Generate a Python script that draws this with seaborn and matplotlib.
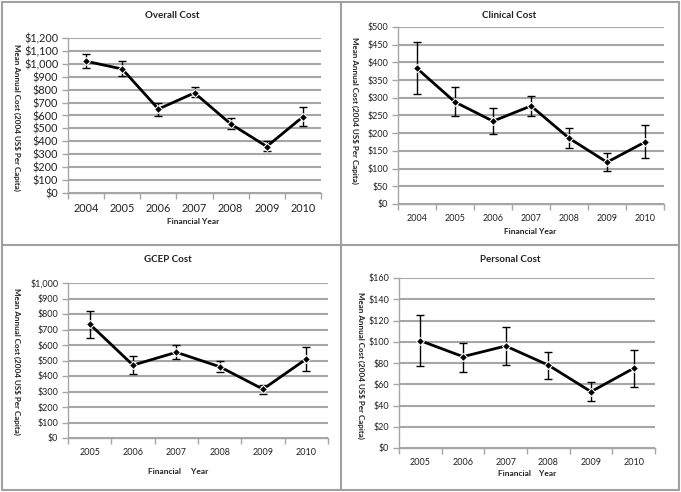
"""Mean annual cost per capita by financial year — four panels."""

import matplotlib
matplotlib.use("Agg")
import matplotlib.pyplot as plt
import matplotlib.ticker as mticker
import numpy as np
import pandas as pd
import seaborn as sns

sns.set_theme(style="white")
plt.rcParams["font.family"] = ["Lato", "DejaVu Sans"]

# ── data ──────────────────────────────────────────────────
years_a = ["2004", "2005", "2006", "2007", "2008", "2009", "2010"]
years_b = ["2005", "2006", "2007", "2008", "2009", "2010"]

overall_mean = [1020, 960, 650, 775, 535, 360, 590]
overall_low = [970, 905, 595, 740, 495, 325, 515]
overall_high = [1075, 1020, 700, 820, 580, 405, 665]

clinical_mean = [383, 288, 234, 277, 186, 118, 175]
clinical_low = [310, 248, 198, 248, 157, 93, 130]
clinical_high = [457, 330, 270, 305, 216, 143, 222]

gcep_mean = [735, 470, 553, 460, 315, 510]
gcep_low = [648, 415, 507, 425, 287, 435]
gcep_high = [822, 528, 598, 495, 340, 590]

personal_mean = [101, 86, 96, 78, 53, 75]
personal_low = [77, 72, 78, 65, 44, 57]
personal_high = [125, 99, 114, 90, 62, 92]

W, H = 681, 492
GRID = "#a6a6a6"
YLABEL = "Mean Annual Cost (2004 US$ Per Capita)"

fig = plt.figure(figsize=(W / 100, H / 100), dpi=100)


def px(x0, y0, x1, y1):
    """pixel box (top-left origin) -> figure rect"""
    return [x0 / W, 1 - y1 / H, (x1 - x0) / W, (y1 - y0) / H]


def panel(rect, years, mean, low, high, ymax, step, title, title_xy,
          xlab, xlab_xy, ylab_xy, tick_fs):
    ax = fig.add_axes(px(*rect))
    df = pd.DataFrame({"year": years, "cost": mean})
    pos = np.arange(len(years))
    yerr = [np.array(mean) - np.array(low), np.array(high) - np.array(mean)]
    ax.errorbar(pos, mean, yerr=yerr, fmt="none", ecolor="black",
                elinewidth=1.0, capsize=3, capthick=1.0, zorder=3)
    sns.lineplot(data=df, x="year", y="cost", ax=ax, color="black",
                 linewidth=2.0, marker="D", markersize=4.5, sort=False, zorder=4)
    ax.set_xlim(-0.5, len(years) - 0.5)
    ax.set_ylim(0, ymax)
    ax.set_yticks(np.arange(0, ymax + step / 2, step))
    ax.yaxis.set_major_formatter(mticker.FuncFormatter(lambda v, _: f"${v:,.0f}"))
    ax.grid(axis="y", color=GRID, linewidth=1.5)
    ax.set_axisbelow(True)
    for s in ["top", "right"]:
        ax.spines[s].set_visible(False)
    for s in ["left", "bottom"]:
        ax.spines[s].set_color(GRID)
        ax.spines[s].set_linewidth(1.0)
    # excel-style ticks between categories
    ax.set_xticks(np.arange(-0.5, len(years)), minor=True)
    ax.tick_params(axis="x", which="major", length=0, labelsize=tick_fs,
                   pad=7, labelcolor="#222222")
    ax.tick_params(axis="x", which="minor", length=4, color=GRID, width=1,
                   direction="out", bottom=True)
    ax.tick_params(axis="y", length=4, color=GRID, width=1, left=True,
                   labelsize=tick_fs, pad=3, labelcolor="#222222")
    ax.set_xlabel("")
    ax.set_ylabel("")
    fig.text(title_xy[0] / W, 1 - title_xy[1] / H, title, ha="center",
             va="center", fontsize=7, fontweight="bold", color="#222222")
    fig.text(xlab_xy[0] / W, 1 - xlab_xy[1] / H, xlab, ha="center",
             va="center", fontsize=6, fontweight="bold", color="#222222")
    fig.text(ylab_xy[0] / W, 1 - ylab_xy[1] / H, YLABEL, ha="center",
             va="center", rotation=270, fontsize=5.8, fontweight="bold",
             color="#222222")
    return ax


panel((68, 38, 321, 193), years_a, overall_mean, overall_low, overall_high,
      1200, 100, "Overall Cost", (172, 15), "Financial Year", (193, 221),
      (17, 117), 7.8)
panel((398, 27, 664, 204), years_a, clinical_mean, clinical_low, clinical_high,
      500, 50, "Clinical Cost", (509, 15), "Financial Year", (530, 232),
      (355, 110), 6.5)
panel((68, 283, 328, 438), years_b, gcep_mean, gcep_low, gcep_high,
      1000, 100, "GCEP Cost", (168, 260), "Financial     Year", (178, 471),
      (17, 361), 6.5)
panel((399, 278, 655, 448), years_b, personal_mean, personal_low, personal_high,
      160, 20, "Personal Cost", (510, 260), "Financial    Year", (527, 474),
      (361, 365), 6.5)

# panel frames
for xs, ys in [((2, 679), (1.5, 1.5)), ((2, 679), (490, 490)),
               ((2, 2), (1.5, 490)), ((679, 679), (1.5, 490)),
               ((341, 341), (1.5, 490)), ((2, 679), (245, 245))]:
    fig.add_artist(plt.Line2D([x / W for x in xs], [1 - y / H for y in ys],
                              color="#a0a0a0", linewidth=1.5))

fig.savefig("out.png", dpi=100)
